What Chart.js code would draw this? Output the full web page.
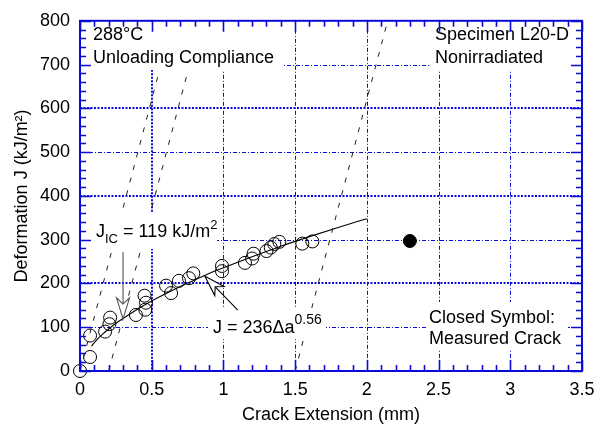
<!DOCTYPE html>
<html><head><meta charset="utf-8">
<script src="https://cdn.jsdelivr.net/npm/chart.js@4"></script>
<style>html,body{margin:0;padding:0;background:#fff}</style>
</head><body>
<canvas id="c" width="604" height="434"></canvas>
<script>
// ---- data ----
const xTickValues = [0, 0.5, 1, 1.5, 2, 2.5, 3, 3.5];
const xTickLabels = ['0', '0.5', '1', '1.5', '2', '2.5', '3', '3.5'];
const yTickValues = [0, 100, 200, 300, 400, 500, 600, 700, 800];
const yTickLabels = ['0', '100', '200', '300', '400', '500', '600', '700', '800'];

const openX = [0, 0.07, 0.07, 0.175, 0.205, 0.21, 0.39, 0.455, 0.46, 0.45, 0.6, 0.635, 0.69, 0.76, 0.79, 0.99, 0.99, 1.15, 1.2, 1.21, 1.30, 1.33, 1.355, 1.39, 1.55, 1.62];
const openJ = [0, 32, 81, 90, 107, 122, 128, 140, 156, 172, 195, 178, 206, 212, 223, 240, 228, 247, 257, 268, 274, 282, 290, 295, 291, 296];

const closedX = [2.3];
const closedJ = [297];

const fitX = [0.08, 0.1, 0.15, 0.2, 0.25, 0.3, 0.4, 0.5, 0.6, 0.7, 0.8, 0.9, 1.0, 1.2, 1.4, 1.6, 1.8, 2.0];
const fitJ = [57, 65, 82, 96, 109, 120, 141, 160, 177, 193, 208, 223, 236, 261, 285, 307, 328, 348];

const bluntX = [0, 0.645];
const offset02X = [0.2, 0.845];
const offset15X = [1.5, 2.145];
const constructJ = [0, 800];

const jicPoint = [0.3, 119];
const fitArrowPoint = [0.87, 217];

// ---- helpers ----
const FONT = "'Liberation Sans', Arial, Helvetica, sans-serif";
const BLUE = '#0b0bd8';
const pts = (xs, ys) => xs.map((x, i) => ({x: x, y: ys[i]}));

function drawArrow(ctx, tx, ty, fx, fy, color) {
  const dx = fx - tx, dy = fy - ty, L = Math.hypot(dx, dy);
  const ux = dx / L, uy = dy / L, px = -uy, py = ux;
  const hl = 21, hw = 6.5, nl = 15;
  ctx.save();
  ctx.strokeStyle = color; ctx.lineWidth = 1.1; ctx.setLineDash([]);
  ctx.beginPath();
  ctx.moveTo(tx + ux * nl, ty + uy * nl);
  ctx.lineTo(fx, fy);
  ctx.stroke();
  ctx.beginPath();
  ctx.moveTo(tx, ty);
  ctx.lineTo(tx + ux * hl + px * hw, ty + uy * hl + py * hw);
  ctx.lineTo(tx + ux * nl, ty + uy * nl);
  ctx.lineTo(tx + ux * hl - px * hw, ty + uy * hl - py * hw);
  ctx.closePath();
  ctx.fillStyle = '#fff';
  ctx.fill();
  ctx.stroke();
  ctx.restore();
}

function richText(ctx, parts, x, y) {
  parts.forEach(p => {
    ctx.font = p[1] + 'px ' + FONT;
    ctx.fillText(p[0], x, y + p[2]);
    x += ctx.measureText(p[0]).width;
  });
}

const decor = {
  id: 'decor',
  beforeDatasetsDraw(chart) {
    const ctx = chart.ctx, a = chart.chartArea;
    const xs = chart.scales.x, ys = chart.scales.y;
    ctx.save();
    ctx.strokeStyle = BLUE;
    [0.5, 1, 1.5, 2, 2.5, 3].forEach(v => {
      const bold = v === 0.5;
      ctx.lineWidth = bold ? 2 : 1;
      ctx.setLineDash(bold ? [2, 1.5] : [4, 2, 1, 2]);
      const p = Math.round(xs.getPixelForValue(v)) + (bold ? 0 : 0.5);
      ctx.beginPath(); ctx.moveTo(p, a.top); ctx.lineTo(p, a.bottom); ctx.stroke();
    });
    [100, 200, 300, 400, 500, 600, 700].forEach(v => {
      const bold = v % 200 === 0;
      ctx.lineWidth = bold ? 2 : 1;
      ctx.setLineDash(bold ? [2, 1.5] : [4, 2, 1, 2]);
      const p = Math.round(ys.getPixelForValue(v)) + (bold ? 0 : 0.5);
      ctx.beginPath(); ctx.moveTo(a.left, p); ctx.lineTo(a.right, p); ctx.stroke();
    });
    ctx.restore();
  },
  afterDatasetsDraw(chart) {
    const ctx = chart.ctx, a = chart.chartArea;
    const xs = chart.scales.x, ys = chart.scales.y;
    ctx.save();
    ctx.fillStyle = '#fff';
    ctx.fillRect(a.left + 1, 22, 203, 48);
    ctx.fillRect(430, 22, a.right - 431, 48);
    ctx.fillRect(a.left + 10, 213, 127, 36);
    ctx.fillRect(208, 308, 118, 31);
    ctx.fillRect(427, 302, 141, 48);
    ctx.fillStyle = '#000';
    ctx.textBaseline = 'alphabetic';
    ctx.textAlign = 'left';
    ctx.font = '18px ' + FONT;
    ctx.fillText('288°C', 93, 40);
    ctx.fillText('Unloading Compliance', 93, 63);
    ctx.fillText('Specimen L20-D', 435, 40);
    ctx.fillText('Nonirradiated', 435, 63);
    ctx.fillText('Closed Symbol:', 429, 323);
    ctx.fillText('Measured Crack', 429, 344);
    richText(ctx, [['J', 18, 0], ['IC', 13, 6], [' = 119 kJ/m', 18, 0], ['2', 13, -8]], 96, 237);
    richText(ctx, [['J = 236Δa', 18, 0], ['0.56', 14, -9]], 213, 333);
    const tx = xs.getPixelForValue(jicPoint[0]), ty = ys.getPixelForValue(jicPoint[1]);
    drawArrow(ctx, tx, ty, tx, 252, '#555');
    const fx = xs.getPixelForValue(fitArrowPoint[0]), fy = ys.getPixelForValue(fitArrowPoint[1]);
    drawArrow(ctx, fx, fy, fx + 33, fy + 34, '#000');
    ctx.restore();
  },
  afterDraw(chart) {
    const ctx = chart.ctx, a = chart.chartArea;
    const xs = chart.scales.x, ys = chart.scales.y;
    ctx.save();
    ctx.strokeStyle = BLUE;
    ctx.setLineDash([]);
    ctx.lineWidth = 1.6;
    for (let i = 0; i <= 35; i++) {
      const v = i / 10;
      const major = i % 5 === 0;
      const len = major ? 11 : 6;
      const p = Math.round(xs.getPixelForValue(v)) + 0.5;
      ctx.beginPath();
      ctx.moveTo(p, a.bottom); ctx.lineTo(p, a.bottom - len);
      ctx.moveTo(p, a.top); ctx.lineTo(p, a.top + len);
      ctx.stroke();
    }
    for (let i = 0; i <= 40; i++) {
      const v = i * 20;
      const major = i % 5 === 0;
      const len = major ? 11 : 6;
      const p = Math.round(ys.getPixelForValue(v)) + 0.5;
      ctx.beginPath();
      ctx.moveTo(a.left, p); ctx.lineTo(a.left + len, p);
      ctx.moveTo(a.right, p); ctx.lineTo(a.right - len, p);
      ctx.stroke();
    }
    ctx.lineWidth = 2;
    ctx.strokeRect(a.left, a.top, a.right - a.left, a.bottom - a.top);
    ctx.restore();
  }
};

const dashStyle = {showLine: true, pointRadius: 0, borderColor: '#222', borderWidth: 1, borderDash: [5, 8], fill: false};

new Chart(document.getElementById('c'), {
  type: 'scatter',
  data: {
    datasets: [
      Object.assign({data: pts(bluntX, constructJ)}, dashStyle),
      Object.assign({data: pts(offset02X, constructJ)}, dashStyle),
      Object.assign({data: pts(offset15X, constructJ)}, dashStyle),
      {data: pts(fitX, fitJ), showLine: true, pointRadius: 0, borderColor: '#000', borderWidth: 1.1, cubicInterpolationMode: 'monotone', fill: false},
      {data: pts(openX, openJ), pointRadius: 6.5, pointStyle: 'circle', borderColor: '#000', borderWidth: 1, backgroundColor: 'rgba(0,0,0,0)', clip: false},
      {data: pts(closedX, closedJ), pointRadius: 6.5, pointStyle: 'circle', borderColor: '#000', borderWidth: 1, backgroundColor: '#000'}
    ]
  },
  options: {
    responsive: false,
    animation: false,
    devicePixelRatio: 1,
    layout: {padding: {top: 11, right: 22, left: 0, bottom: 0}},
    plugins: {legend: {display: false}, tooltip: {enabled: false}},
    scales: {
      x: {
        type: 'linear', min: 0, max: 3.5,
        afterBuildTicks: s => { s.ticks = xTickValues.map(v => ({value: v})); },
        afterFit: s => { s.height = 63; },
        grid: {display: false, drawTicks: false},
        border: {display: false},
        ticks: {autoSkip: false, maxRotation: 0, padding: 8, color: '#000', font: {family: FONT, size: 18},
          callback: v => xTickLabels[xTickValues.indexOf(v)]},
        title: {display: true, text: 'Crack Extension (mm)', color: '#000', font: {family: FONT, size: 18}, padding: {top: 8, bottom: 8}}
      },
      y: {
        type: 'linear', min: 0, max: 800,
        afterBuildTicks: s => { s.ticks = yTickValues.map(v => ({value: v})); },
        afterFit: s => { s.width = 80; },
        grid: {display: false, drawTicks: false},
        border: {display: false},
        ticks: {autoSkip: false, padding: 10, color: '#000', font: {family: FONT, size: 18},
          callback: v => yTickLabels[yTickValues.indexOf(v)]},
        title: {display: true, text: 'Deformation J (kJ/m²)', color: '#000', font: {family: FONT, size: 18}, padding: {top: 11, bottom: 11}}
      }
    }
  },
  plugins: [decor]
});
</script>
</body></html>
